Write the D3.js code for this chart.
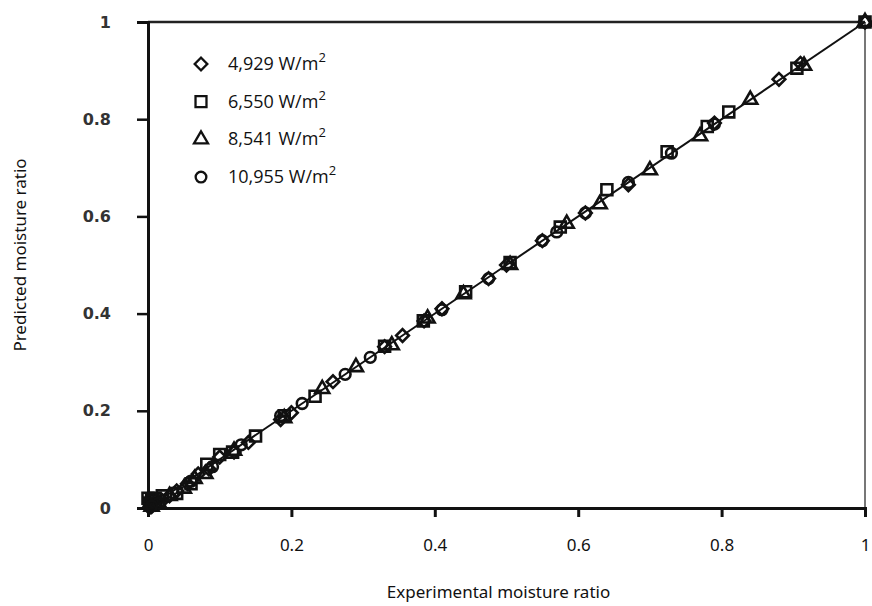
<!DOCTYPE html>
<meta charset="utf-8">
<script src="https://d3js.org/d3.v7.min.js"></script>
<style>
  body { margin: 0; background: #fff; }
</style>
<div id="chart"></div>
<script>
// series labels (W/m2)
var seriesNames = ["4,929", "6,550", "8,541", "10,955"];
var seriesShapes = ["diamond", "square", "triangle", "circle"];

// [experimental, predicted] pairs
var diamondPts = [[1.0,1.0],[0.91,0.915],[0.88,0.882],[0.79,0.792],[0.67,0.665],[0.61,0.607],[0.55,0.55],[0.50,0.50],
  [0.475,0.472],[0.41,0.41],[0.385,0.385],[0.355,0.355],[0.33,0.332],[0.258,0.26],[0.20,0.196],[0.185,0.182],
  [0.14,0.135],[0.12,0.115],[0.10,0.105],[0.085,0.08],[0.07,0.07],[0.055,0.05],[0.04,0.035],[0.03,0.025],
  [0.02,0.015],[0.01,0.008],[0.005,0.003],[0.002,0.001]];
var squarePts = [[1,1],[0.905,0.905],[0.81,0.815],[0.78,0.785],[0.724,0.733],[0.64,0.655],[0.575,0.578],[0.505,0.505],
  [0.443,0.445],[0.384,0.385],[0.33,0.333],[0.233,0.23],[0.19,0.19],[0.15,0.148],[0.118,0.115],[0.10,0.11],
  [0.082,0.09],[0.06,0.05],[0.04,0.03],[0.02,0.025],[0.01,0.02],[0.005,0.015],[0.002,0.01],[0.0,0.02]];
var trianglePts = [[1,1],[0.915,0.91],[0.84,0.84],[0.77,0.765],[0.70,0.695],[0.63,0.625],[0.584,0.585],[0.505,0.5],
  [0.44,0.44],[0.39,0.39],[0.34,0.335],[0.29,0.29],[0.243,0.245],[0.19,0.185],[0.12,0.118],[0.08,0.07],
  [0.065,0.06],[0.05,0.04],[0.03,0.025],[0.015,0.01],[0.005,0.003]];
var circlePts = [[1,1],[0.79,0.79],[0.73,0.73],[0.67,0.67],[0.61,0.607],[0.57,0.568],[0.55,0.55],[0.475,0.472],
  [0.41,0.408],[0.31,0.31],[0.275,0.275],[0.215,0.215],[0.185,0.19],[0.13,0.13],[0.09,0.085],[0.06,0.055],
  [0.035,0.03],[0.015,0.01],[0.005,0.004]];

var xTicks = [0, 0.2, 0.4, 0.6, 0.8, 1];
var yTicks = [0, 0.2, 0.4, 0.6, 0.8, 1];

var margin = {top: 22, right: 7, bottom: 98, left: 148},
    width = 872 - margin.left - margin.right,
    height = 606 - margin.top - margin.bottom;

var svg = d3.select("#chart").append("svg")
    .attr("width", 872).attr("height", 606)
  .append("g")
    .attr("transform", "translate(" + margin.left + "," + margin.top + ")");

var x = d3.scaleLinear().domain([0, 1]).range([0, width]);
var y = d3.scaleLinear().domain([0, 1]).range([height, 0]);

// frame: top and right
svg.append("line").attr("x1", 0).attr("x2", width).attr("y1", 0).attr("y2", 0)
  .attr("stroke", "#222").attr("stroke-width", 2.5);
svg.append("line").attr("x1", width).attr("x2", width).attr("y1", 0).attr("y2", height)
  .attr("stroke", "#777").attr("stroke-width", 2);

// axes
var xAxis = svg.append("g")
  .attr("transform", "translate(0," + height + ")")
  .call(d3.axisBottom(x).tickValues(xTicks).tickSize(9).tickPadding(22).tickFormat(d3.format("")));
xAxis.select(".domain").attr("stroke", "#111").attr("stroke-width", 3);
xAxis.selectAll(".tick line").attr("stroke", "#111").attr("stroke-width", 3);
xAxis.selectAll("text").style("font-family", "Noto Sans").style("font-size", "17px").attr("fill", "#111");

var yAxis = svg.append("g")
  .call(d3.axisLeft(y).tickValues(yTicks).tickSize(11).tickPadding(26).tickFormat(d3.format("")));
yAxis.select(".domain").attr("stroke", "#111").attr("stroke-width", 3);
yAxis.selectAll(".tick line").attr("stroke", "#111").attr("stroke-width", 2.5);
yAxis.selectAll("text").style("font-family", "DejaVu Sans").style("font-size", "16px")
  .style("font-weight", "600").attr("fill", "#333");

// axis titles
svg.append("text")
  .attr("x", width / 2 - 8).attr("y", height + 90)
  .attr("text-anchor", "middle")
  .style("font-family", "Noto Sans").style("font-size", "17px").attr("fill", "#111")
  .text("Experimental moisture ratio");
svg.append("text")
  .attr("transform", "rotate(-90)")
  .attr("x", -(255 - margin.top)).attr("y", -122)
  .attr("text-anchor", "middle")
  .style("font-family", "Noto Sans").style("font-size", "17px").attr("fill", "#111")
  .text("Predicted moisture ratio");

// 1:1 line
svg.append("line")
  .attr("x1", x(0)).attr("y1", y(0)).attr("x2", x(1)).attr("y2", y(1))
  .attr("stroke", "#111").attr("stroke-width", 2);

function shapePath(kind) {
  if (kind === "diamond") return d3.symbol().type(d3.symbolSquare).size(80)();
  if (kind === "square") return d3.symbol().type(d3.symbolSquare).size(120)();
  if (kind === "triangle") return d3.symbol().type(d3.symbolTriangle).size(85)();
  return d3.symbol().type(d3.symbolCircle).size(90)();
}
function rot(kind) { return kind === "diamond" ? " rotate(45)" : ""; }

var allSeries = [diamondPts, squarePts, trianglePts, circlePts];
allSeries.forEach(function(pts, i) {
  var kind = seriesShapes[i];
  svg.append("g").selectAll("path")
    .data(pts)
    .enter().append("path")
      .attr("d", shapePath(kind))
      .attr("transform", function(d) { return "translate(" + x(d[0]) + "," + y(d[1]) + ")" + rot(kind); })
      .attr("fill", "none")
      .attr("stroke", "#111")
      .attr("stroke-width", 2.6);
});

// legend
var legend = svg.append("g").attr("transform", "translate(53,42)");
seriesNames.forEach(function(name, i) {
  var row = legend.append("g").attr("transform", "translate(0," + (i * 37.7) + ")");
  var kind = seriesShapes[i];
  row.append("path")
    .attr("d", shapePath(kind))
    .attr("transform", "translate(0,0)" + rot(kind))
    .attr("fill", "none").attr("stroke", "#111").attr("stroke-width", 2.3);
  var t = row.append("text")
    .attr("x", 27).attr("y", 6)
    .style("font-family", "Open Sans").style("font-size", "18px").attr("fill", "#111");
  t.append("tspan").text(name + " W/m");
  t.append("tspan").attr("dy", -8).style("font-size", "13px").text("2");
});
</script>
